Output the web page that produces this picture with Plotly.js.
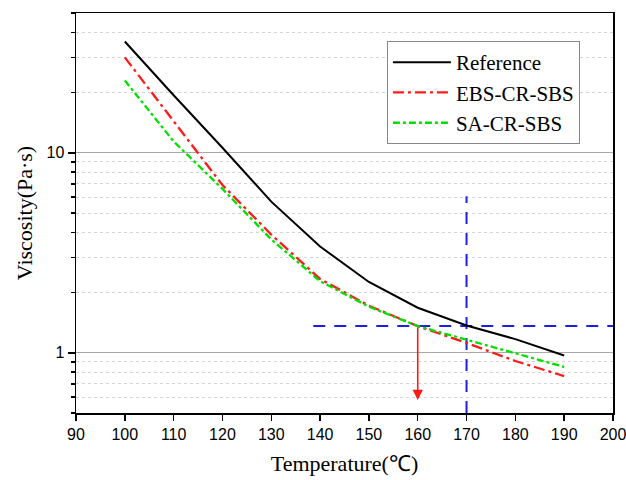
<!DOCTYPE html>
<html>
<head>
<meta charset="utf-8">
<script src="https://cdn.plot.ly/plotly-3.0.1.min.js"></script>
<style>html,body{margin:0;padding:0;background:#fff;}#chart{width:626px;height:480px;}</style>
</head>
<body>
<div id="chart"></div>
<script>
const temps = [100, 110, 120, 130, 140, 150, 160, 170, 180, 190];
const reference = [36, 19.4, 10.6, 5.7, 3.4, 2.26, 1.68, 1.37, 1.17, 0.97];
const ebsCrSbs = [30, 14.4, 6.9, 3.9, 2.34, 1.72, 1.36, 1.12, 0.91, 0.765];
const saCrSbs = [23, 11.4, 6.6, 3.69, 2.28, 1.70, 1.36, 1.165, 0.99, 0.85];
const seriesNames = ['Reference', 'EBS-CR-SBS', 'SA-CR-SBS'];
const guideHX = [138.6, 200];
const guideHY = [1.36, 1.36];
const guideVX = [170, 170];
const guideVY = [0.5, 6.07];
const arrowX = 160;
const arrowFrom = 1.36;
const arrowTo = 0.58;
const xTicks = [90, 100, 110, 120, 130, 140, 150, 160, 170, 180, 190, 200];

const traces = [
  {x: guideHX, y: guideHY, mode: 'lines', showlegend: false, hoverinfo: 'skip',
   line: {color: '#1f1fe0', width: 2, dash: '12px,9px'}},
  {x: guideVX, y: guideVY, mode: 'lines', showlegend: false, hoverinfo: 'skip',
   line: {color: '#1f1fe0', width: 2, dash: '12px,9px'}},
  {x: temps, y: reference, name: seriesNames[0], mode: 'lines',
   line: {color: '#000000', width: 2}},
  {x: temps, y: ebsCrSbs, name: seriesNames[1], mode: 'lines',
   line: {color: '#ff1a1a', width: 2.3, dash: '11px,4px,3px,4px'}},
  {x: temps, y: saCrSbs, name: seriesNames[2], mode: 'lines',
   line: {color: '#00e000', width: 2.3, dash: '7px,3px,3px,3px'}}
];

const layout = {
  width: 626, height: 480,
  margin: {l: 76, r: 13, t: 13, b: 67},
  paper_bgcolor: '#ffffff', plot_bgcolor: '#ffffff',
  showlegend: true,
  legend: {x: 0.579, y: 0.93, xanchor: 'left', yanchor: 'top',
    bgcolor: '#ffffff', bordercolor: '#888888', borderwidth: 1,
    itemwidth: 58,
    font: {family: 'Liberation Serif, serif', size: 21, color: '#000'},
    tracegroupgap: 0},
  xaxis: {
    range: [89.999, 200.001], tickvals: xTicks, ticktext: xTicks.map(String),
    ticklabeloverflow: 'allow',
    ticks: 'outside', ticklen: 6, tickwidth: 1.5, tickcolor: '#000',
    showline: true, linecolor: '#000', linewidth: 1.5, mirror: true,
    showgrid: false, zeroline: false,
    tickfont: {family: 'Liberation Sans, Arial, sans-serif', size: 16, color: '#000'},
    title: {text: 'Temperature(℃)', font: {family: 'Liberation Serif, serif', size: 22, color: '#000'}, standoff: 14}
  },
  yaxis: {
    type: 'log', range: [Math.log10(0.5), Math.log10(50)],
    tickvals: [1, 10], ticktext: ['1', '10'],
    ticks: 'outside', ticklen: 7, tickwidth: 1.5, tickcolor: '#000',
    showline: true, linecolor: '#000', linewidth: 1.5, mirror: true,
    showgrid: true, gridcolor: '#aaaaaa', gridwidth: 1, zeroline: false,
    minor: {dtick: 'D1', ticks: 'outside', ticklen: 4, tickcolor: '#000', showgrid: true, gridcolor: '#d4d4d4', griddash: 'dot', gridwidth: 1},
    tickfont: {family: 'Liberation Sans, Arial, sans-serif', size: 16, color: '#000'},
    title: {text: 'Viscosity(Pa·s)', font: {family: 'Liberation Serif, serif', size: 22, color: '#000'}, standoff: 8}
  },
  annotations: [{
    x: arrowX, y: Math.log10(arrowTo), xref: 'x', yref: 'y',
    ax: arrowX, ay: Math.log10(arrowFrom), axref: 'x', ayref: 'y',
    text: '', showarrow: true, arrowhead: 2, arrowsize: 1.3, arrowwidth: 1.6, arrowcolor: '#ff1a1a'
  }]
};

Plotly.newPlot('chart', traces, layout, {displayModeBar: false, staticPlot: true});
</script>
</body>
</html>
